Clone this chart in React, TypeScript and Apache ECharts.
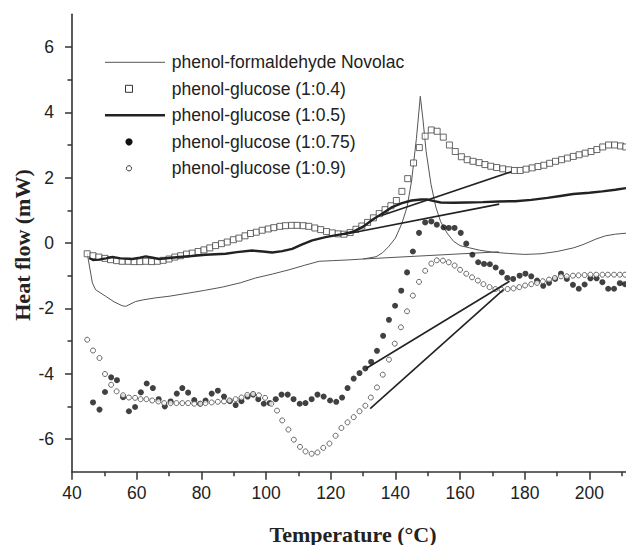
import React, { useEffect, useRef } from "react";
import * as echarts from "echarts";

// ---------- data ----------
const xMajorTicks = [40, 60, 80, 100, 120, 140, 160, 180, 200];
const xMinorTicks = [50, 70, 90, 110, 130, 150, 170, 190, 210];
const yMajorTicks = [-6, -4, -2, 0, 2, 4, 6];
const yMinorTicks = [-5, -3, -1, 1, 3, 5];

const legendNames = [
  "phenol-formaldehyde Novolac",
  "phenol-glucose (1:0.4)",
  "phenol-glucose (1:0.5)",
  "phenol-glucose (1:0.75)",
  "phenol-glucose (1:0.9)",
];

const novolac = [
  [44.7, -0.31], [46.3, -1.22], [47.3, -1.43], [50.4, -1.63], [53, -1.8], [55.5, -1.92],
  [56.6, -1.94], [59.7, -1.79], [62, -1.74], [65.8, -1.68], [70, -1.63], [76.2, -1.53],
  [81, -1.45], [86.5, -1.35], [92, -1.22], [96.8, -1.07], [102, -0.95], [107.1, -0.82],
  [112, -0.68], [116.4, -0.56], [120.5, -0.54], [125, -0.52], [130, -0.49], [134, -0.42],
  [136, -0.3], [138, -0.1], [140, 0.15], [142, 0.6], [143.6, 1.1], [145, 1.9], [146.5, 3.2],
  [147.7, 4.49], [148.5, 3.8], [149.5, 2.8], [151, 1.8], [152.5, 1.1], [154, 0.65],
  [156, 0.3], [158, 0.05], [160, -0.08], [163, -0.15], [166, -0.22], [170, -0.28],
  [175, -0.32], [180, -0.35], [185, -0.33], [190, -0.26], [195, -0.15], [198, -0.05],
  [202, 0.12], [205, 0.22], [208, 0.27], [211.3, 0.3],
];
const novolacBaseline = [[130, -0.49], [172, -0.27]];

const pg04 = [
  [44.7, -0.33], [46.5, -0.39], [48.3, -0.43], [50.2, -0.47], [51.9, -0.51], [53.8, -0.54],
  [55.5, -0.56], [57.4, -0.56], [59.2, -0.57], [61, -0.57], [62.8, -0.56], [64.6, -0.57],
  [66.4, -0.56], [68.2, -0.53], [70, -0.49], [71.8, -0.43], [73.6, -0.39], [75.4, -0.34],
  [77.2, -0.31], [79, -0.26], [80.8, -0.21], [82.6, -0.15], [84.4, -0.08], [86.2, -0.02],
  [88, 0.03], [89.9, 0.1], [91.6, 0.15], [93.5, 0.22], [95.2, 0.29], [97, 0.33],
  [98.8, 0.39], [100.7, 0.43], [102.4, 0.47], [104.3, 0.51], [106, 0.53], [107.9, 0.54],
  [109.6, 0.54], [111.5, 0.53], [113.2, 0.51], [115.1, 0.46], [116.9, 0.41], [118.7, 0.35],
  [120.5, 0.31], [122.3, 0.28], [124.1, 0.27], [126, 0.32], [127.8, 0.42], [129.6, 0.52],
  [131.4, 0.63], [133.2, 0.77], [135, 0.9], [136.8, 1.02], [138.6, 1.14], [140.3, 1.3],
  [142, 1.58], [143.8, 1.97], [145.6, 2.45], [147.4, 2.92], [149.2, 3.27], [151.1, 3.46],
  [152.9, 3.42], [154.8, 3.24], [156.7, 3.0], [158.5, 2.8], [160.4, 2.64], [162.2, 2.55],
  [164, 2.5], [165.9, 2.46], [167.7, 2.4], [169.5, 2.35], [171.3, 2.31], [173.2, 2.27],
  [175, 2.24], [176.8, 2.22], [178.6, 2.22], [180.4, 2.26], [182.3, 2.3], [184.1, 2.34],
  [185.9, 2.38], [187.7, 2.44], [189.5, 2.5], [191.4, 2.55], [193.2, 2.6], [195, 2.65],
  [196.8, 2.7], [198.7, 2.75], [200.5, 2.8], [202.3, 2.86], [204.1, 2.94], [205.9, 3.0],
  [207.8, 3.0], [209.6, 2.97], [211.2, 2.94],
];

const pg05 = [
  [45.3, -0.46], [46.5, -0.52], [48.3, -0.51], [50.5, -0.47], [52.5, -0.43], [55, -0.47],
  [58.6, -0.49], [61, -0.45], [62.8, -0.41], [65, -0.45], [66.9, -0.49], [70, -0.46],
  [73.1, -0.43], [77, -0.4], [81.3, -0.36], [87.5, -0.33], [91, -0.28], [95.7, -0.23],
  [99, -0.26], [101.9, -0.29], [105, -0.25], [108.1, -0.18], [111, -0.05], [114.3, 0.08],
  [118.4, 0.18], [120.5, 0.22], [124, 0.28], [127, 0.35], [130, 0.5], [133, 0.72],
  [136, 0.9], [139, 1.1], [142, 1.22], [145, 1.3], [148, 1.33], [150, 1.33], [152, 1.28],
  [154, 1.24], [158, 1.23], [162, 1.24], [167, 1.25], [172, 1.27], [177, 1.28], [182, 1.32],
  [187, 1.38], [191, 1.44], [195, 1.5], [200, 1.54], [204, 1.58], [208, 1.63], [211.3, 1.68],
];

const pg075 = [
  [46.5, -4.88], [48.5, -5.1], [50.2, -4.56], [52.1, -4.11], [53.9, -4.2], [55.8, -4.72],
  [57.6, -5.15], [59.5, -5.02], [61.3, -4.57], [63.1, -4.3], [65, -4.44], [66.8, -4.78],
  [68.7, -5.0], [70.5, -4.85], [72.4, -4.61], [74.1, -4.44], [75.9, -4.58], [77.8, -4.81],
  [79.6, -4.92], [81.3, -4.82], [83.2, -4.61], [85.1, -4.52], [87, -4.7], [88.8, -4.84],
  [90.6, -4.96], [92.4, -4.84], [94.3, -4.7], [96, -4.64], [97.6, -4.78], [99.3, -4.92],
  [101.1, -4.9], [103, -4.78], [104.8, -4.64], [106.7, -4.64], [108.5, -4.78], [110.4, -4.92],
  [112.2, -4.9], [114.1, -4.78], [115.9, -4.64], [117.8, -4.7], [119.8, -4.82], [121.7, -4.86],
  [123.5, -4.73], [125.2, -4.44], [127.1, -4.15], [128.9, -3.98], [130.7, -3.84], [132.5, -3.64],
  [134.3, -3.3], [136.2, -2.84], [138, -2.35], [139.9, -1.92], [141.8, -1.46], [143.6, -0.9],
  [145.4, -0.26], [147.3, 0.31], [149.2, 0.63], [151.1, 0.66], [152.8, 0.56], [154.9, 0.48],
  [156.5, 0.46], [158.3, 0.46], [160.2, 0.31], [161.9, -0.02], [163.8, -0.36], [165.6, -0.59],
  [167.4, -0.64], [169.2, -0.65], [171, -0.75], [172.9, -0.9], [174.6, -1.07], [176.4, -1.1],
  [178.4, -1.0], [180.2, -0.94], [182, -1.02], [183.8, -1.15], [185.7, -1.31], [187.5, -1.22],
  [189.4, -1.1], [191.2, -0.94], [193, -1.1], [194.9, -1.28], [196.7, -1.4], [198.5, -1.27],
  [200.3, -1.08], [202.2, -1.08], [204, -1.2], [205.8, -1.4], [207.6, -1.4], [209.4, -1.23],
  [211, -1.26],
];

const pg09 = [
  [44.7, -2.96], [46.5, -3.29], [48.5, -3.52], [50.2, -4.01], [52.1, -4.34], [53.8, -4.54],
  [55.8, -4.66], [57.6, -4.73], [59.5, -4.74], [61.2, -4.78], [63, -4.78], [64.8, -4.82],
  [66.7, -4.85], [68.5, -4.9], [70.5, -4.9], [72.3, -4.9], [74.1, -4.9], [75.9, -4.9],
  [77.8, -4.92], [79.7, -4.92], [81.3, -4.9], [83.2, -4.88], [85.1, -4.86], [87, -4.85],
  [88.7, -4.82], [90.6, -4.78], [92.4, -4.73], [94.2, -4.65], [96, -4.62], [97.8, -4.66],
  [99.7, -4.74], [101.6, -4.92], [103.4, -5.13], [105, -5.43], [106.9, -5.71], [108.6, -6.02],
  [110.5, -6.24], [112.2, -6.38], [114.1, -6.45], [115.9, -6.41], [117.7, -6.27], [119.6, -6.14],
  [121.5, -5.9], [123.3, -5.66], [125.2, -5.49], [127.1, -5.33], [128.9, -5.15], [130.7, -4.98],
  [132.4, -4.73], [134.3, -4.42], [136.1, -4.03], [138, -3.57], [139.8, -3.08], [141.7, -2.58],
  [143.6, -2.09], [145.4, -1.61], [147.3, -1.19], [149.2, -0.85], [151.1, -0.63], [152.8, -0.53],
  [154.7, -0.54], [156.5, -0.59], [158.3, -0.69], [160, -0.82], [161.9, -0.94], [163.7, -1.05],
  [165.5, -1.15], [167.2, -1.26], [169.1, -1.35], [170.9, -1.41], [172.8, -1.43], [174.7, -1.41],
  [176.5, -1.39], [178.3, -1.35], [180.1, -1.3], [182, -1.26], [183.8, -1.22], [185.6, -1.17],
  [187.5, -1.12], [189.3, -1.07], [191.2, -1.02], [193, -1.02], [194.9, -1.0], [196.6, -0.99],
  [198.5, -0.98], [200.3, -0.97], [202.1, -0.97], [204, -0.97], [205.7, -0.97], [207.6, -0.97],
  [209.4, -0.97], [211, -0.97],
];

const tangent04 = [[135.7, 0.84], [175.8, 2.18]];
const tangent05 = [[124, 0.26], [172.1, 1.19]];
const tangent075 = [[130.9, -3.84], [175.3, -1.17]];
const tangent09 = [[132.2, -5.07], [173.4, -1.43]];

export default function App() {
  const ref = useRef<HTMLDivElement>(null);

  useEffect(() => {
    if (!ref.current) return;
    const chart = echarts.init(ref.current, null, { renderer: "svg" });

    const axisColor = "#333";
    const labelFont = {
      fontFamily: "Liberation Sans, Arial, sans-serif",
      fontSize: 17.5,
      color: "#222",
    };
    const titleFont = "Liberation Serif, Times New Roman, serif";

    const tangentSeries = (data: number[][]) => ({
      type: "line",
      data,
      showSymbol: false,
      symbol: "none",
      lineStyle: { color: "#222", width: 1.6 },
      silent: true,
      z: 4,
    });

    // legend
    const legendX = 171.7;
    const rowY = [62.3, 88.8, 115.3, 141.8, 168.3];
    const legendGraphics: any[] = [];
    legendNames.forEach((name, i) => {
      legendGraphics.push({
        type: "text",
        x: legendX,
        y: rowY[i],
        style: {
          text: name,
          fontFamily: labelFont.fontFamily,
          fontSize: 17.5,
          fill: "#222",
          verticalAlign: "middle",
        },
      });
    });
    legendGraphics.push({
      type: "line",
      shape: { x1: 105, y1: rowY[0], x2: 165, y2: rowY[0] },
      style: { stroke: "#555", lineWidth: 1 },
    });
    legendGraphics.push({
      type: "rect",
      shape: { x: 125.5, y: rowY[1] - 3.5, width: 7, height: 7 },
      style: { fill: "#fff", stroke: "#333", lineWidth: 1 },
    });
    legendGraphics.push({
      type: "line",
      shape: { x1: 105, y1: rowY[2], x2: 165, y2: rowY[2] },
      style: { stroke: "#222", lineWidth: 2.6 },
    });
    legendGraphics.push({
      type: "circle",
      shape: { cx: 129, cy: rowY[3], r: 3.6 },
      style: { fill: "#111" },
    });
    legendGraphics.push({
      type: "circle",
      shape: { cx: 129, cy: rowY[4], r: 2.6 },
      style: { fill: "#fff", stroke: "#333", lineWidth: 1 },
    });

    chart.setOption({
      animation: false,
      backgroundColor: "#fff",
      grid: { left: 72, right: 0, top: 14.3, bottom: 73.3, containLabel: false },
      xAxis: [
        {
          type: "value",
          min: 40,
          max: 211.3,
          position: "bottom",
          axisLine: { show: true, onZero: false, lineStyle: { color: axisColor, width: 1.6 } },
          axisTick: { show: true, length: 8, customValues: xMajorTicks, lineStyle: { color: axisColor, width: 1.5 } },
          axisLabel: { customValues: xMajorTicks, margin: 12, ...labelFont },
          splitLine: { show: false },
        },
        {
          type: "value",
          min: 40,
          max: 211.3,
          position: "bottom",
          axisLine: { show: false, onZero: false },
          axisTick: { show: true, length: 4.5, customValues: xMinorTicks, lineStyle: { color: axisColor, width: 1.5 } },
          axisLabel: { show: false },
          splitLine: { show: false },
        },
      ],
      yAxis: [
        {
          type: "value",
          min: -7,
          max: 7,
          position: "left",
          axisLine: { show: true, onZero: false, lineStyle: { color: axisColor, width: 1.6 } },
          axisTick: { show: true, length: 7, customValues: yMajorTicks, lineStyle: { color: axisColor, width: 1.5 } },
          axisLabel: { customValues: yMajorTicks, margin: 18, ...labelFont },
          splitLine: { show: false },
        },
        {
          type: "value",
          min: -7,
          max: 7,
          position: "left",
          axisLine: { show: false, onZero: false },
          axisTick: { show: true, length: 4.5, customValues: yMinorTicks, lineStyle: { color: axisColor, width: 1.5 } },
          axisLabel: { show: false },
          splitLine: { show: false },
        },
      ],
      graphic: [
        {
          type: "text",
          x: 22,
          y: 245,
          rotation: Math.PI / 2,
          style: {
            text: "Heat flow (mW)",
            fontFamily: titleFont,
            fontWeight: "bold",
            fontSize: 22,
            fill: "#222",
            align: "center",
            verticalAlign: "middle",
          },
        },
        {
          type: "text",
          x: 353,
          y: 534,
          style: {
            text: "Temperature (°C)",
            fontFamily: titleFont,
            fontWeight: "bold",
            fontSize: 22,
            fill: "#222",
            align: "center",
            verticalAlign: "middle",
          },
        },
        ...legendGraphics,
      ],
      series: [
        {
          name: legendNames[0],
          type: "line",
          data: novolac,
          showSymbol: false,
          symbol: "none",
          lineStyle: { color: "#555", width: 1 },
          z: 2,
        },
        {
          name: legendNames[0] + " baseline",
          type: "line",
          data: novolacBaseline,
          showSymbol: false,
          symbol: "none",
          lineStyle: { color: "#555", width: 1 },
          z: 2,
        },
        {
          name: legendNames[1],
          type: "scatter",
          data: pg04,
          symbol: "rect",
          symbolSize: 6,
          itemStyle: { color: "#fff", borderColor: "#444", borderWidth: 1 },
          z: 3,
        },
        {
          name: legendNames[2],
          type: "line",
          data: pg05,
          showSymbol: false,
          symbol: "none",
          lineStyle: { color: "#222", width: 2.4 },
          z: 4,
        },
        {
          name: legendNames[3],
          type: "scatter",
          data: pg075,
          symbol: "circle",
          symbolSize: 6,
          itemStyle: { color: "#111" },
          z: 3,
        },
        {
          name: legendNames[4],
          type: "scatter",
          data: pg09,
          symbol: "circle",
          symbolSize: 5,
          itemStyle: { color: "#fff", borderColor: "#444", borderWidth: 1 },
          z: 3,
        },
        tangentSeries(tangent04),
        tangentSeries(tangent05),
        tangentSeries(tangent075),
        tangentSeries(tangent09),
      ],
    });

    return () => chart.dispose();
  }, []);

  return (
    <div
      ref={ref}
      style={{ position: "absolute", left: 0, top: 0, width: 626, height: 545, background: "#fff" }}
    />
  );
}
